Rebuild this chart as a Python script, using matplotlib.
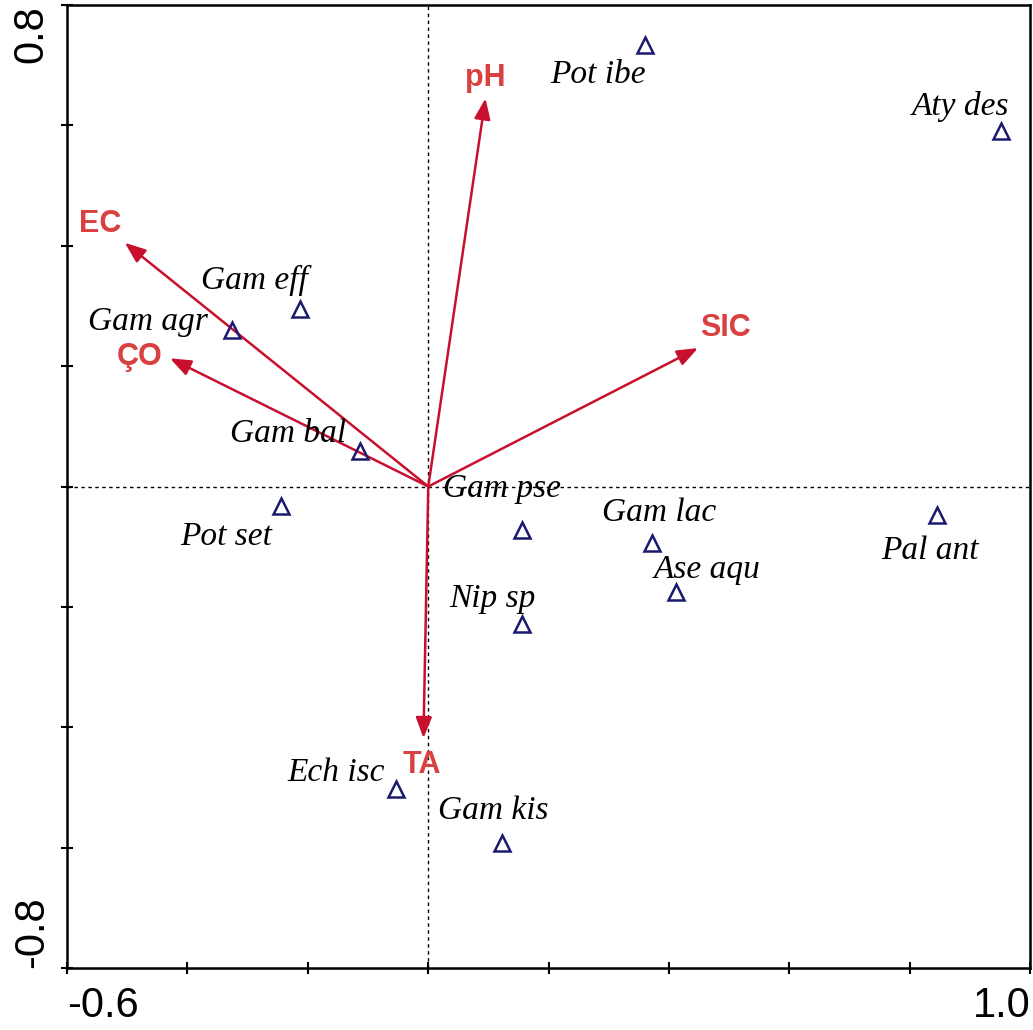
import matplotlib
matplotlib.use("Agg")
import matplotlib.pyplot as plt
import numpy as np

# Species scores (triangles)
species = ["Pot ibe", "Aty des", "Gam eff", "Gam agr", "Gam bal", "Pot set", "Gam pse",
           "Gam lac", "Ase aqu", "Pal ant", "Nip sp", "Ech isc", "Gam kis"]
sp_x = [0.360, 0.952, -0.213, -0.326, -0.113, -0.245, 0.156, 0.372, 0.412, 0.845, 0.156, -0.053, 0.123]
sp_y = [0.734, 0.591, 0.295, 0.260, 0.059, -0.032, -0.072, -0.094, -0.175, -0.047, -0.228, -0.503, -0.592]
sp_lx = [0.282, 0.884, -0.289, -0.465, -0.233, -0.336, 0.123, 0.384, 0.463, 0.834, 0.106, -0.153, 0.108]
sp_ly = [0.684, 0.631, 0.343, 0.273, 0.087, -0.084, -0.004, -0.044, -0.139, -0.107, -0.187, -0.476, -0.539]

# Environmental vectors
env = ["pH", "EC", "ÇO", "SIC", "TA"]
env_x = [0.095, -0.504, -0.429, 0.448, -0.008]
env_y = [0.645, 0.405, 0.213, 0.230, -0.418]
env_lx = [0.095, -0.545, -0.479, 0.493, -0.010]
env_ly = [0.679, 0.436, 0.215, 0.263, -0.463]

xticks = [-0.6, -0.4, -0.2, 0.0, 0.2, 0.4, 0.6, 0.8, 1.0]
yticks = [-0.8, -0.6, -0.4, -0.2, 0.0, 0.2, 0.4, 0.6, 0.8]

fig = plt.figure(figsize=(10.33, 10.30), dpi=100)
ax = fig.add_axes([0.0649, 0.0602, 0.9325, 0.9349])
ax.set_xlim(-0.6, 1.0)
ax.set_ylim(-0.8, 0.8)

ax.axhline(0, color="black", lw=1.0, ls=(0, (2.5, 2.5)), zorder=1)
ax.axvline(0, color="black", lw=1.0, ls=(0, (2.5, 2.5)), zorder=1)

arrow_col = "#c8102e"
label_col = "#d94040"
for x, y in zip(env_x, env_y):
    ax.annotate("", xy=(x, y), xytext=(0, 0),
                arrowprops=dict(arrowstyle="-|>,head_length=0.9,head_width=0.35",
                                color=arrow_col, lw=1.8, shrinkA=0, shrinkB=0,
                                mutation_scale=14), zorder=3)
for name, x, y in zip(env, env_lx, env_ly):
    ax.text(x, y, name, color=label_col, fontsize=22, fontweight="bold",
            family="Liberation Sans", ha="center", va="center", zorder=4)

ax.plot(sp_x, sp_y, ls="none", marker="^", ms=11, mfc="none", mec="#1a1a6e", mew=1.8, zorder=5)
for name, x, y in zip(species, sp_lx, sp_ly):
    ax.text(x, y, name, fontsize=24, style="italic", family="Liberation Serif",
            ha="center", va="center", color="black", zorder=4)

ax.set_xticks(xticks)
ax.set_yticks(yticks)
ax.set_xticklabels(["-0.6"] + [""] * 7 + ["1.0"])
ax.set_yticklabels(["-0.8"] + [""] * 7 + ["0.8"], rotation=90, va="center")
for lab in ax.get_xticklabels() + ax.get_yticklabels():
    lab.set_family("Liberation Sans")
    lab.set_fontsize(30)
xl = ax.get_xticklabels()
xl[0].set_ha("left")
xl[-1].set_ha("right")
yl = ax.get_yticklabels()
yl[0].set_va("bottom")
yl[-1].set_va("top")
ax.tick_params(axis="x", direction="inout", length=8, width=1.5, pad=9)
ax.tick_params(axis="y", direction="inout", length=8, width=1.5, pad=7)
for s in ax.spines.values():
    s.set_linewidth(1.8)

fig.savefig("out.png", dpi=100)
